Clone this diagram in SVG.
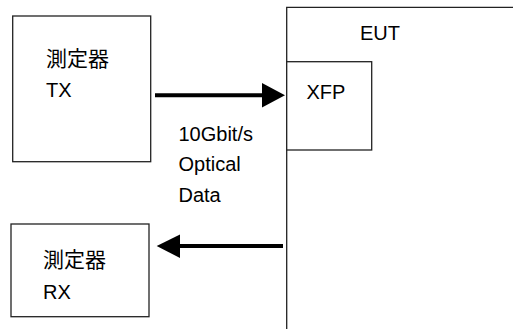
<svg xmlns="http://www.w3.org/2000/svg" width="513" height="329" viewBox="0 0 513 329">
<style>
.box{fill:#fff;stroke:#222;stroke-width:1.3}
.t{font-family:"Liberation Sans","Noto Sans CJK JP",Arial,sans-serif;font-size:20px;fill:#000}
.j{font-size:21px}
.c{stroke:#000;stroke-width:4;fill:none}
</style>
<rect width="513" height="329" fill="#fff"/>
<g id="eut">
<path class="box" d="M286.7,329 V7.3 H520" fill="none"/>
<text class="t" x="360" y="40">EUT</text>
</g>
<g id="xfp">
<rect class="box" x="286.7" y="61.7" width="85" height="88.3"/>
<text class="t" x="306.5" y="98.5">XFP</text>
</g>
<g id="tx">
<rect class="box" x="12.7" y="16" width="138" height="145.7"/>
<text class="t j" x="46" y="66">測定器</text>
<text class="t" x="46" y="97.3">TX</text>
</g>
<g id="rx">
<rect class="box" x="11" y="224" width="138" height="92.7"/>
<text class="t j" x="43" y="267">測定器</text>
<text class="t" x="43" y="299">RX</text>
</g>
<g id="connectors">
<line class="c" x1="155" y1="95.3" x2="263" y2="95.3"/>
<polygon points="262,83 285,95.3 262,107.5" fill="#000"/>
<line class="c" x1="283" y1="246" x2="179" y2="246"/>
<polygon points="180,234.5 156.7,246 180,258" fill="#000"/>
<text class="t" x="178.5" y="140.5">10Gbit/s</text>
<text class="t" x="178.5" y="171">Optical</text>
<text class="t" x="178.5" y="202">Data</text>
</g>
</svg>
